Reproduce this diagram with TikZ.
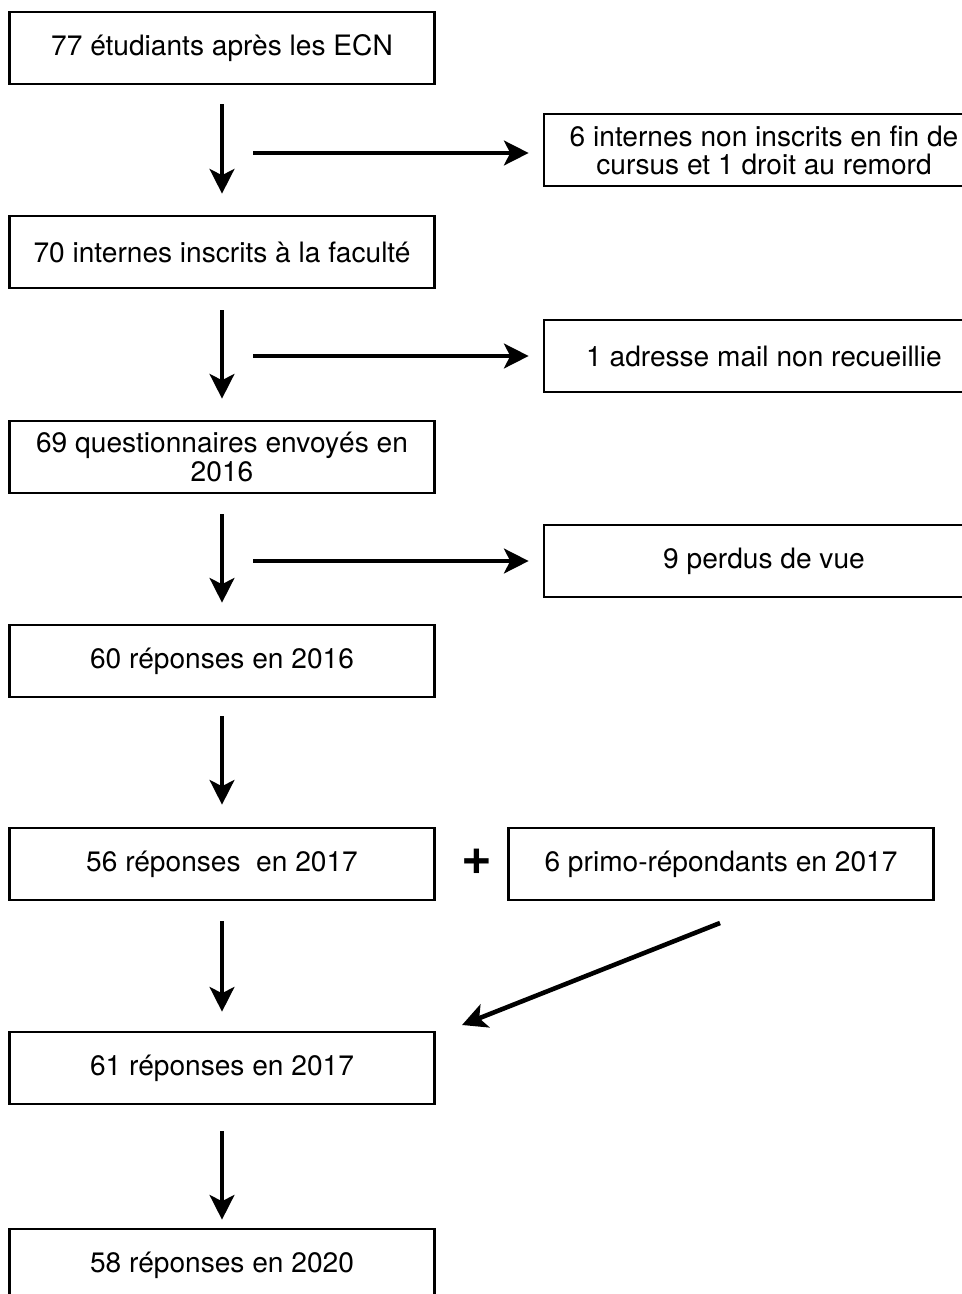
\documentclass[tikz,border=0pt]{standalone}
\usepackage{fontspec}
\setmainfont{TeX Gyre Heros}
\usetikzlibrary{arrows.meta}

\begin{document}
\begin{tikzpicture}[x=0.02cm,y=-0.02cm,
    etape/.style={draw,line width=1.5pt,minimum width=425*0.02cm,minimum height=72*0.02cm,
      align=center,inner sep=0pt,font=\fontsize{16}{16}\selectfont},
    sortie/.style={etape,minimum width=440*0.02cm},
    fleche/.style={draw,line width=2.6pt,-{Stealth[length=14pt,width=14pt,inset=3.5pt]}}]
              \useasboundingbox (0,0) rectangle (962,1294);
              \clip (0,0) rectangle (962,1294);
              %\draw[help lines,step=50] (0,0) grid (962,1294);
              \node[etape] (ecn) at (222,48) {77 étudiants après les ECN};
              \node[etape] (inscrits) at (222,252) {70 internes inscrits à la faculté};
              \node[etape] (envoyes) at (222,457) {69 questionnaires envoyés en\\2016};
              \node[etape] (rep16) at (222,661) {60 réponses en 2016};
              \node[etape] (rep17) at (222,864) {56 réponses\ \ en 2017};
              \node[etape] (tot17) at (222,1068) {61 réponses en 2017};
              \node[etape] (rep20) at (222,1265) {58 réponses en 2020};
              \node[sortie] (exclus) at (764,150) {6 internes non inscrits en fin de\\cursus et 1 droit au remord};
              \node[sortie] (mail) at (764,356) {1 adresse mail non recueillie};
              \node[sortie] (perdus) at (764,561) {9 perdus de vue};
              \node[etape] (primo) at (721,864) {6 primo-répondants en 2017};
              \node[font=\fontsize{30}{30}\selectfont\bfseries] (plus) at (477,862) {+};
              % fleches verticales
              \path[fleche,shorten <=19*0.02cm,shorten >=21*0.02cm] (ecn) -- (inscrits);
              \path[fleche,shorten <=21*0.02cm,shorten >=21*0.02cm] (inscrits) -- (envoyes);
              \path[fleche,shorten <=20*0.02cm,shorten >=21*0.02cm] (envoyes) -- (rep16);
              \path[fleche,shorten <=18*0.02cm,shorten >=22*0.02cm] (rep16) -- (rep17);
              \path[fleche,shorten <=20*0.02cm,shorten >=19*0.02cm] (rep17) -- (tot17);
              \path[fleche,shorten <=26*0.02cm,shorten >=8*0.02cm] (tot17) -- (rep20);
              % fleches horizontales
              \coordinate (d1) at (253,153);
              \coordinate (d2) at (253,356);
              \coordinate (d3) at (253,561);
              \path[fleche,shorten >=14*0.02cm] (d1) -- (d1 -| exclus.west);
              \path[fleche,shorten >=14*0.02cm] (d2) -- (d2 -| mail.west);
              \path[fleche,shorten >=14*0.02cm] (d3) -- (d3 -| perdus.west);
              % fleche oblique
              \coordinate (o1) at (720,923);
              \coordinate (o2) at (462,1025);
              \path[fleche] (o1) -- (o2);
\end{tikzpicture}
\end{document}
